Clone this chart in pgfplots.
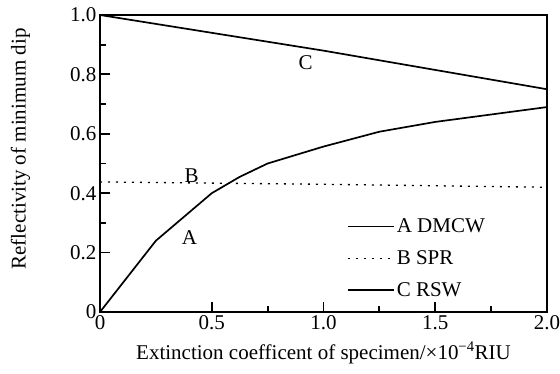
\documentclass[border=0pt]{standalone}
\usepackage{pgfplots}
\pgfplotsset{compat=1.18}
\usepackage{fontspec}
\setmainfont{Liberation Serif}
\newcommand{\fs}{\fontsize{21bp}{24bp}\selectfont}
\begin{document}
\begin{tikzpicture}
\begin{axis}[
  scale only axis, width=447bp, height=297bp,
  xmin=0, xmax=2.0, ymin=0, ymax=1.0,
  xtick={0.5,1.0,1.5,2.0},
  ytick={0.2,0.4,0.6,0.8,1.0},
  minor tick num=1,
  xtick pos=left, ytick pos=left,
  major tick length=10bp, minor tick length=6bp,
  every major tick/.append style={line width=1.8bp, black},
  every minor tick/.append style={line width=1.8bp, black},
  axis background/.style={draw=black, line width=1.5bp},
  tick label style={font=\fs, /pgf/number format/.cd, fixed, fixed zerofill, precision=1, assume math mode=true},
  xlabel={Extinction coefficent of specimen/×10\textsuperscript{−4}RIU},
  ylabel={Reflectivity of minimum dip},
  label style={font=\fs},
  xlabel style={at={(axis description cs:0.5,-0.137)}, anchor=center},
  ylabel style={at={(axis description cs:-0.178,0.549)}, anchor=center},
  legend cell align=left,
  legend style={at={(axis description cs:0.545,0.328)}, anchor=north west, draw=none, fill=none,
    font=\fs, row sep=12.5bp,
    /tikz/every even column/.append style={column sep=3bp}},
  legend image code/.code={\draw[#1] (0bp,0bp) -- (46bp,0bp);},
]
\addplot[black, line width=1.7bp, forget plot] coordinates {
 (0,0) (0.125,0.12) (0.25,0.24) (0.375,0.32) (0.5,0.40) (0.625,0.455) (0.75,0.50)
 (1.0,0.557) (1.25,0.607) (1.5,0.64) (1.75,0.665) (2.0,0.69)};
\addplot[black, line width=1.3bp, dash pattern=on 2bp off 6bp, forget plot] coordinates {
 (0,0.438) (0.5,0.434) (1.0,0.43) (1.5,0.425) (2.0,0.42)};
\addplot[black, line width=1.7bp, forget plot] coordinates {
 (0,1.0) (0.5,0.94) (1.0,0.88) (1.5,0.815) (2.0,0.75)};
\addlegendimage{black, line width=0.8bp}
\addlegendentry{A DMCW}
\addlegendimage{black, line width=1.3bp, dash pattern=on 2bp off 6bp}
\addlegendentry{B SPR}
\addlegendimage{black, line width=2bp}
\addlegendentry{C RSW}
\node[font=\fs] at (axis cs:0.40,0.25) {A};
\node[font=\fs] at (axis cs:0.41,0.458) {B};
\node[font=\fs] at (axis cs:0.92,0.84) {C};
\coordinate (sw) at (rel axis cs:0,0);
\coordinate (ne) at (rel axis cs:1,1);
\end{axis}
\node[font=\fs, anchor=east] at (sw) {0};
\node[font=\fs, anchor=north] at (sw) {0};
\pgfresetboundingbox
\path ([shift={(-100bp,-62bp)}]sw) rectangle ([shift={(13bp,15bp)}]ne);
\end{tikzpicture}
\end{document}
